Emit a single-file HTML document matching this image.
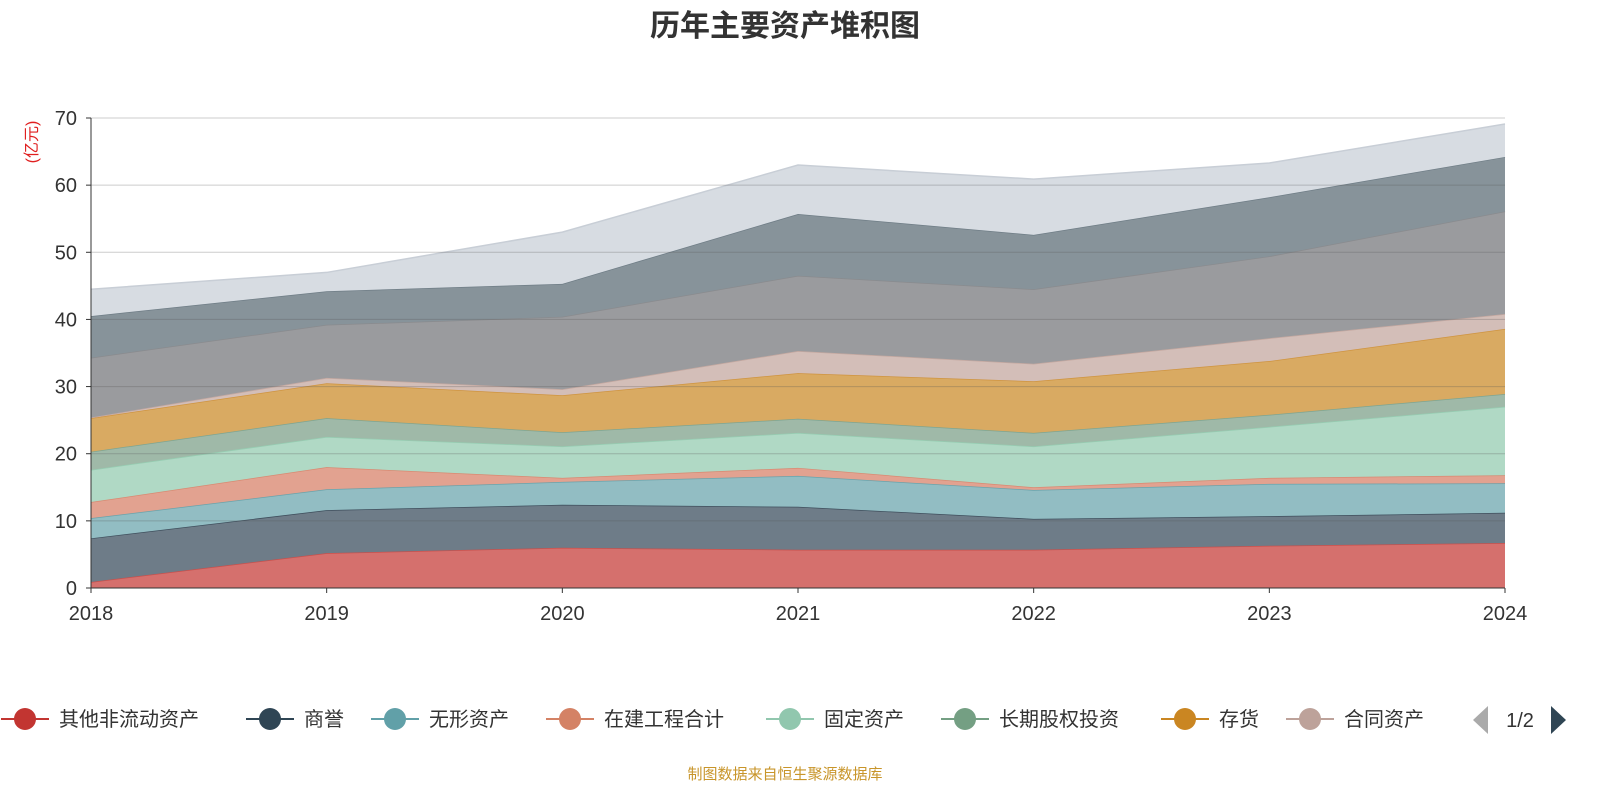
<!DOCTYPE html>
<html><head><meta charset="utf-8"><style>
html,body{margin:0;padding:0;background:#fff;overflow:hidden;width:1600px;height:800px;font-family:"Liberation Sans","Noto Sans CJK SC",sans-serif;}
svg{display:block;}
</style></head><body>
<svg id="chart" width="1600" height="800" xmlns="http://www.w3.org/2000/svg" font-family="Liberation Sans, Noto Sans CJK SC, sans-serif">
<text x="785" y="36" text-anchor="middle" font-size="30" font-weight="bold" fill="#333">历年主要资产堆积图</text>
<text transform="translate(37,142) rotate(-90)" text-anchor="middle" font-size="16" fill="#e02020">(亿元)</text>
<g id="areas"></g><g id="grid"></g><g id="axes"></g><g id="legend"></g>
<text x="785" y="779" text-anchor="middle" font-size="15" fill="#c8952a">制图数据来自恒生聚源数据库</text>
</svg>
<script>
const years=["2018","2019","2020","2021","2022","2023","2024"];
const yTicks=[0,10,20,30,40,50,60,70];
const names=["其他非流动资产","商誉","无形资产","在建工程合计","固定资产","长期股权投资","存货","合同资产","其他1","其他2","其他3"];
const s0=[0.9,5.2,6.0,5.7,5.7,6.3,6.7];
const s1=[7.4,11.6,12.4,12.1,10.3,10.7,11.2];
const s2=[10.4,14.7,15.8,16.7,14.6,15.5,15.6];
const s3=[12.8,18.0,16.4,17.9,15.0,16.4,16.8];
const s4=[17.6,22.5,21.1,23.1,21.1,24.0,27.0];
const s5=[20.3,25.3,23.2,25.2,23.1,25.8,28.9];
const s6=[25.3,30.5,28.7,32.0,30.8,33.8,38.6];
const s7=[25.4,31.3,29.6,35.3,33.4,37.2,40.8];
const s8=[34.3,39.2,40.4,46.5,44.5,49.4,56.1];
const s9=[40.5,44.2,45.3,55.7,52.6,58.2,64.2];
const s10=[44.5,47.0,53.0,63.0,60.9,63.3,69.1];
const series=[s0,s1,s2,s3,s4,s5,s6,s7,s8,s9,s10];
const fills=["#d5706d","#6e7c88","#92bdc3","#e2a290","#b0d9c5","#9fb9a8","#d9aa62","#d3beb8","#9a9b9e","#87939a","#d7dce2"];
const lineC=["#c9504c","#3f4f5d","#6aa3ab","#d88a72","#96cdb2","#7ea591","#cf9440","#c4a8a0","#8a8b8e","#6f7d86","#c8ced6"];
const legendC=["#c23531","#2f4554","#61a0a8","#d48265","#91c7ae","#749f83","#ca8622","#bda29a"];
const X0=91,X1=1505,Y0=588,Y1=118;
const x=i=>X0+(X1-X0)*i/(years.length-1);
const y=v=>Y0-(Y0-Y1)*v/70;
const NS="http://www.w3.org/2000/svg";
function mk(t,a,p){const e=document.createElementNS(NS,t);for(const k in a)e.setAttribute(k,a[k]);p.appendChild(e);return e;}
const A=document.getElementById('areas');
series.forEach((s,k)=>{
  const lower=k?series[k-1]:s.map(()=>0);
  let d=s.map((v,i)=>(i?'L':'M')+x(i)+','+y(v)).join('');
  for(let i=s.length-1;i>=0;i--)d+='L'+x(i)+','+y(lower[i]);
  const p=mk('path',{d:d+'Z',fill:fills[k],stroke:'none'},A);
  
  
  const l=mk('polyline',{points:s.map((v,i)=>x(i)+','+y(v)).join(' '),fill:'none',stroke:lineC[k],'stroke-width':1.5},A);
  
  
});
const G=document.getElementById('grid');
yTicks.forEach(t=>{
  if(t>0){const g=mk('line',{x1:X0,x2:X1,y1:y(t),y2:y(t),stroke:'#555','stroke-opacity':0.3,'stroke-width':1},G);
  
  }
  const tl=mk('line',{x1:X0-5,x2:X0,y1:y(t),y2:y(t),stroke:'#333'},G);
  
  
  const tx=mk('text',{x:X0-14,y:y(t)+7,'text-anchor':'end','font-size':20,fill:'#333'},G);tx.textContent=t;
  
  
});
const Ax=document.getElementById('axes');
const ya=mk('line',{x1:X0,x2:X0,y1:Y1,y2:Y0,stroke:'#333'},Ax);


const xa=mk('line',{x1:X0,x2:X1,y1:Y0,y2:Y0,stroke:'#333'},Ax);


years.forEach((yr,i)=>{
  const t=mk('line',{x1:x(i),x2:x(i),y1:Y0,y2:Y0+5,stroke:'#333'},Ax);
  
  
  const tx=mk('text',{x:x(i),y:620,'text-anchor':'middle','font-size':20,fill:'#333'},Ax);tx.textContent=yr;
  
  
});
const L=document.getElementById('legend');
const lx=[25,270,395,570,790,965,1185,1310];
legendC.forEach((c,k)=>{
  const g=mk('g',{},L);
  
  
  mk('line',{x1:lx[k]-24,x2:lx[k]+24,y1:719,y2:719,stroke:c,'stroke-width':2},g);
  mk('circle',{cx:lx[k],cy:719,r:11,fill:c},g);
  const t=mk('text',{x:lx[k]+34,y:726,'font-size':20,fill:'#333'},g);t.textContent=names[k];
});
const pp=mk('path',{d:'M1488,706 L1488,734 L1473,720Z',fill:'#aaa'},L);


const pt=mk('text',{x:1520,y:727,'text-anchor':'middle','font-size':20,fill:'#333'},L);pt.textContent='1/2';


const np=mk('path',{d:'M1551,706 L1551,734 L1566,720Z',fill:'#2f4554'},L);


</script>
</body></html>
